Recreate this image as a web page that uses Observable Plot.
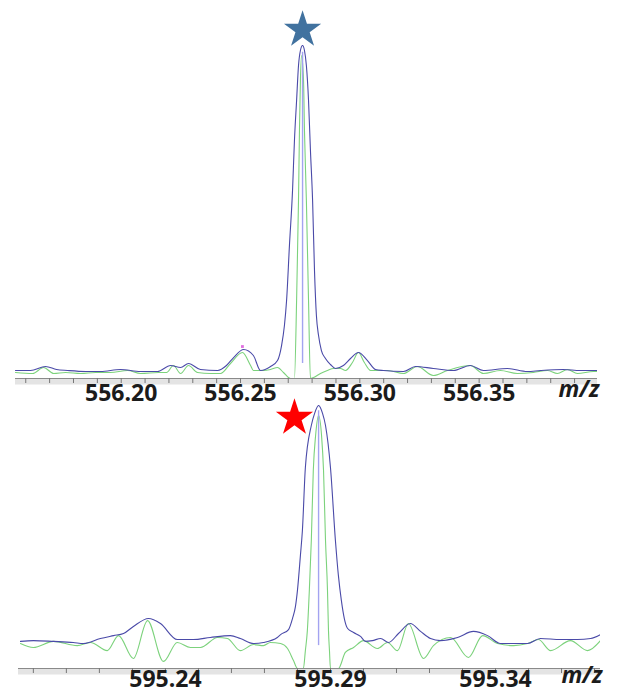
<!DOCTYPE html>
<html>
<head>
<meta charset="utf-8">
<script src="https://cdn.jsdelivr.net/npm/d3@7"></script>
<script src="https://cdn.jsdelivr.net/npm/@observablehq/plot@0.6"></script>
<style>
  html, body { margin: 0; padding: 0; background: #ffffff; }
  #wrap { position: relative; width: 623px; height: 695px; overflow: hidden; background: #fff; }
  #top, #bottom { position: absolute; left: 0; }
  #top { top: 0; }
  #bottom { top: 390px; }
  #wrap svg text { font-weight: 700; }
</style>
</head>
<body>
<div id="wrap"><div id="top"></div><div id="bottom"></div></div>
<script>
// ---------- top spectrum (m/z 556.2x) ----------
const topDomain = [556.1557, 556.3996];
const topMajorTicks = [556.20, 556.25, 556.30, 556.35];
const topMinorTicks = [556.16, 556.17, 556.18, 556.19, 556.20, 556.21, 556.22, 556.23, 556.24, 556.25, 556.26, 556.27, 556.28, 556.29, 556.30, 556.31, 556.32, 556.33, 556.34, 556.35, 556.36, 556.37, 556.38, 556.39];
const topTickLabels = ["556.20", "556.25", "556.30", "556.35"];

const topBlueMz = [556.1557, 556.1620, 556.1683, 556.1729, 556.1775, 556.1851, 556.1914, 556.1997, 556.2081, 556.2152,
  556.2207, 556.2249, 556.2282, 556.2332, 556.2404, 556.2441, 556.2471, 556.2513, 556.2554, 556.2584,
  556.2626, 556.2655, 556.2672, 556.2684, 556.2693, 556.2705, 556.2718, 556.2726, 556.2735, 556.2743,
  556.2751, 556.2760, 556.2768, 556.2776, 556.2785, 556.2793, 556.2802, 556.2810, 556.2818, 556.2827,
  556.2839, 556.2856, 556.2877, 556.2898, 556.2931, 556.2961, 556.2994, 556.3032, 556.3066, 556.3099,
  556.3183, 556.3233, 556.3308, 556.3392, 556.3463, 556.3518, 556.3618, 556.3702, 556.3757, 556.3853,
  556.3924, 556.3996];
const topBlueInt = [2.4, 2.4, 3.6, 2.7, 2.4, 2.1, 2.1, 2.7, 2.1, 2.1,
  3.9, 3.3, 4.5, 2.7, 2.4, 3.9, 6.3, 8.7, 6.9, 2.4,
  3.6, 5.4, 9.9, 15.9, 23.4, 39.9, 56.5, 71.5, 83.5, 94.0,
  98.5, 100, 98.5, 94.0, 83.5, 68.5, 53.5, 32.4, 18.9, 12.9,
  8.4, 6.0, 4.2, 3.0, 3.9, 6.0, 7.8, 5.4, 2.7, 2.4,
  2.1, 3.6, 3.0, 2.4, 3.9, 2.4, 3.0, 2.1, 2.4, 2.7,
  2.4, 2.4];

const topGreenMz = [556.1557, 556.1629, 556.1675, 556.1717, 556.1767, 556.1830, 556.1893, 556.1955, 556.2027, 556.2081,
  556.2157, 556.2190, 556.2219, 556.2249, 556.2282, 556.2320, 556.2374, 556.2416, 556.2458, 556.2508,
  556.2542, 556.2554, 556.2596, 556.2626, 556.2655, 556.2680, 556.2709, 556.2726, 556.2735, 556.2743,
  556.2747, 556.2751, 556.2756, 556.2764, 556.2768, 556.2776, 556.2785, 556.2793, 556.2806, 556.2835,
  556.2864, 556.2890, 556.2919, 556.2940, 556.2969, 556.2994, 556.3019, 556.3045, 556.3116, 556.3183,
  556.3241, 556.3308, 556.3367, 556.3463, 556.3518, 556.3589, 556.3660, 556.3727, 556.3786, 556.3828,
  556.3870, 556.3912, 556.3979, 556.3996];
const topGreenInt = [1.8, 1.5, 3.3, 1.5, 1.8, 1.5, 1.8, 1.8, 2.4, 1.5,
  1.8, 1.8, 3.9, 1.5, 3.9, 1.8, 1.5, 1.5, 4.5, 7.8,
  3.9, 2.4, 2.4, 2.7, 3.3, 1.8, 0, 0, 23.4, 53.5,
  74.5, 89.5, 97.0, 89.5, 74.5, 53.5, 23.4, 0, 0.3, 1.5,
  2.4, 3.0, 3.0, 2.4, 4.8, 7.8, 4.8, 2.4, 2.4, 1.5,
  3.6, 0.9, 2.4, 3.9, 1.5, 2.4, 1.5, 1.8, 2.4, 1.5,
  2.7, 1.5, 2.1, 2.1];

const topStick = {mz: 556.2760, low: 4.5, high: 98};
const topStar = {mz: 556.2760, int: 104.7};
const topMarker = {mz: 556.2508, int: 9.6};

// ---------- bottom spectrum (m/z 595.2x) ----------
const botDomain = [595.1955, 595.3718];
const botMajorTicks = [595.24, 595.29, 595.34];
const botMinorTicks = [595.20, 595.21, 595.22, 595.23, 595.24, 595.25, 595.26, 595.27, 595.28, 595.29, 595.30, 595.31, 595.32, 595.33, 595.34, 595.35, 595.36, 595.37];
const botTickLabels = ["595.24", "595.29", "595.34"];

const botBlueMz = [595.1961, 595.2000, 595.2061, 595.2121, 595.2152, 595.2203, 595.2243, 595.2273, 595.2303, 595.2349,
  595.2385, 595.2436, 595.2485, 595.2536, 595.2597, 595.2627, 595.2667, 595.2697, 595.2739, 595.2749,
  595.2773, 595.2785, 595.2794, 595.2800, 595.2809, 595.2815, 595.2824, 595.2842, 595.2852, 595.2864,
  595.2876, 595.2885, 595.2900, 595.2915, 595.2924, 595.2933, 595.2942, 595.2952, 595.2970, 595.2991,
  595.3006, 595.3027, 595.3052, 595.3076, 595.3106, 595.3142, 595.3173, 595.3203, 595.3233, 595.3285,
  595.3333, 595.3376, 595.3415, 595.3455, 595.3497, 595.3536, 595.3597, 595.3648, 595.3688, 595.3718];
const botBlueInt = [10.3, 10.6, 10.3, 9.9, 9.5, 11.4, 12.5, 13.3, 16.0, 19.0,
  17.1, 11.0, 11.0, 11.8, 12.5, 11.4, 9.5, 9.9, 11.8, 12.9,
  14.8, 19.0, 23.6, 29.7, 43.0, 52.5, 76.4, 92.4, 97.0, 100,
  97.0, 92.4, 76.4, 48.7, 35.4, 25.9, 19.0, 15.2, 13.7, 12.2,
  10.3, 10.6, 11.4, 9.9, 13.3, 17.1, 14.1, 11.4, 10.6, 11.8,
  14.1, 12.5, 9.5, 9.5, 9.5, 11.4, 11.0, 11.0, 11.4, 12.9];

const botGreenMz = [595.1961, 595.2000, 595.2061, 595.2133, 595.2173, 595.2224, 595.2258, 595.2303, 595.2346, 595.2394,
  595.2436, 595.2476, 595.2506, 595.2558, 595.2588, 595.2627, 595.2667, 595.2697, 595.2718, 595.2749,
  595.2770, 595.2788, 595.2800, 595.2818, 595.2824, 595.2830, 595.2836, 595.2842, 595.2848, 595.2855,
  595.2864, 595.2873, 595.2879, 595.2885, 595.2891, 595.2894, 595.2897, 595.2900, 595.2924, 595.2945,
  595.2970, 595.3000, 595.3042, 595.3073, 595.3103, 595.3136, 595.3182, 595.3212, 595.3264, 595.3318,
  595.3361, 595.3406, 595.3455, 595.3497, 595.3530, 595.3567, 595.3627, 595.3679, 595.3718];
const botGreenInt = [9.5, 8.0, 10.3, 8.7, 9.9, 6.8, 12.5, 3.8, 18.2, 2.7,
  9.9, 8.0, 8.0, 11.8, 11.4, 6.8, 9.1, 8.7, 9.9, 9.5,
  7.6, 3.0, 0, 0, 6.8, 14.4, 29.7, 48.7, 75.3, 88.6,
  96.2, 88.6, 75.3, 48.7, 29.7, 14.4, 6.8, 0, 0, 6.1,
  8.0, 10.6, 7.6, 9.9, 6.8, 17.1, 3.8, 8.7, 11.8, 4.2,
  12.5, 9.5, 8.7, 9.5, 11.0, 6.8, 10.6, 6.8, 10.6];

const botStick = {mz: 595.2864, low: 8.7, high: 98};
const botStar = {mz: 595.2791, int: 95.3};

// ---------- styling ----------
const BLUE = "#4a4aa8";
const GREEN = "#7cd27c";
const STICK = "#a3a3f0";
const FONT = "'Open Sans', 'Noto Sans', sans-serif";

const pts = (xs, ys) => xs.map((x, i) => ({mz: x, v: ys[i]}));

function spectrum({domain, minor, major, labels, blue, green, stick, star, starColor, marker,
                   width, height, mt, mb, ml, mr, labelPad}) {
  const marks = [
    Plot.ruleY([0], {stroke: "#e4e4e4", strokeWidth: 6, dy: 3}),
    Plot.ruleY([0], {stroke: "#8a8a8a", strokeWidth: 1.2}),
    Plot.axisX({ticks: minor, tickSize: 5, stroke: "#777", text: null, label: null}),
    Plot.axisX({ticks: major, tickSize: 0, tickPadding: labelPad, label: null,
      tickFormat: (d) => labels[major.indexOf(d)],
      fontSize: 23, fontWeight: "bold", fill: "#1b1b1b", fontFamily: FONT}),
    Plot.text(["m/z"], {frameAnchor: "bottom-right", textAnchor: "end", dx: 2, dy: labelPad + 12,
      fontSize: 23, fontWeight: "bold", fontStyle: "italic", fill: "#1b1b1b", fontFamily: FONT}),
    Plot.line(green, {x: "mz", y: "v", stroke: GREEN, strokeWidth: 1.1, curve: "monotone-x", clip: true}),
    Plot.line(blue, {x: "mz", y: "v", stroke: BLUE, strokeWidth: 1.1, curve: "monotone-x", clip: true}),
    Plot.ruleX([stick], {x: "mz", y1: "low", y2: "high", stroke: STICK, strokeWidth: 1.4}),
    Plot.dot([star], {x: "mz", y: "int", symbol: "star", r: 11.7, fill: starColor, stroke: "none"})
  ];
  if (marker) marks.push(Plot.dot([marker], {x: "mz", y: "int", symbol: "square", r: 1.6, fill: "#e070e0"}));
  return Plot.plot({
    width, height,
    marginTop: mt, marginBottom: mb, marginLeft: ml, marginRight: mr,
    style: {background: "transparent", overflow: "visible", fontFamily: FONT},
    x: {domain, axis: null, label: null},
    y: {domain: [0, 100], axis: null, label: null},
    marks
  });
}

document.getElementById("top").appendChild(spectrum({
  domain: topDomain, minor: topMinorTicks, major: topMajorTicks, labels: topTickLabels,
  blue: pts(topBlueMz, topBlueInt), green: pts(topGreenMz, topGreenInt),
  stick: topStick, star: topStar, starColor: "#41729f", marker: topMarker,
  width: 623, height: 410, mt: 45, mb: 32, ml: 15, mr: 26, labelPad: 6
}));

document.getElementById("bottom").appendChild(spectrum({
  domain: botDomain, minor: botMinorTicks, major: botMajorTicks, labels: botTickLabels,
  blue: pts(botBlueMz, botBlueInt), green: pts(botGreenMz, botGreenInt),
  stick: botStick, star: botStar, starColor: "#ff0000", marker: null,
  width: 623, height: 305, mt: 15, mb: 27, ml: 18, mr: 23, labelPad: 2
}));
</script>
</body>
</html>
